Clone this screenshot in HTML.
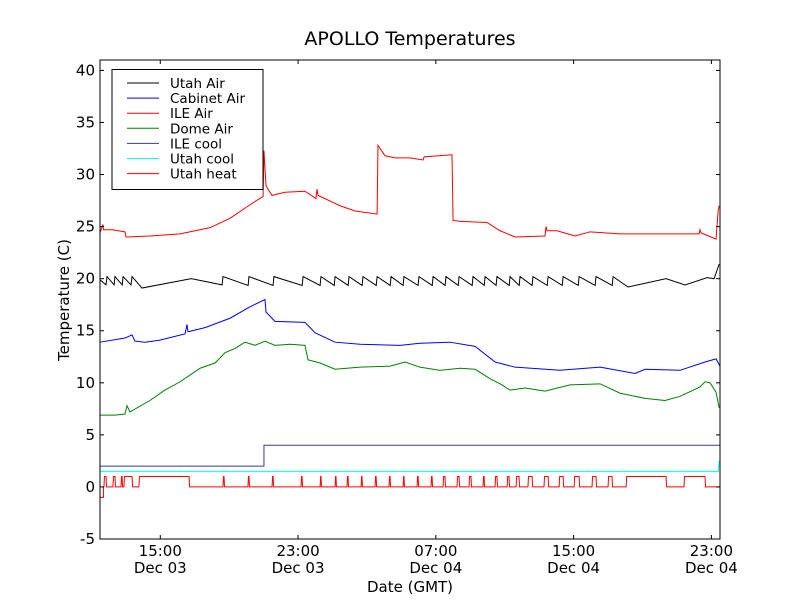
<!DOCTYPE html>
<html><head><meta charset="utf-8"><style>
body{margin:0;background:#fff;}
svg{display:block;font-family:"DejaVu Sans","Liberation Sans",sans-serif;}
</style></head><body>
<svg id="chart" width="800" height="600">
<rect width="800" height="600" fill="#fff"/>
<text x="410" y="45" text-anchor="middle" font-size="19">APOLLO Temperatures</text>
<text x="410" y="592" text-anchor="middle" font-size="15">Date (GMT)</text>
<text transform="translate(69,300) rotate(-90)" text-anchor="middle" font-size="15">Temperature (C)</text>
<g id="plot"></g>
</svg>
<script>
const xTickHours=[3.5,11.5,19.5,27.5,35.5];
const xTickTimes=["15:00","23:00","07:00","15:00","23:00"];
const xTickDates=["Dec 03","Dec 03","Dec 04","Dec 04","Dec 04"];
const yTicks=[-5,0,5,10,15,20,25,30,35,40];
const utahAirT=[0,0.35,0.41,0.82,0.87,1.29,1.34,1.8,1.86,2.44,5.3,7.09,7.14,8.6,8.65,10.05,10.10,11.74,11.79,12.78,12.83,13.6,13.65,14.41,14.46,15.22,15.27,16.04,16.09,16.85,16.9,17.6,17.65,18.47,18.52,19.29,19.34,20.04,20.09,20.8,20.85,21.61,21.66,22.31,22.36,23.0,23.05,23.76,23.81,24.34,24.39,25.09,25.14,25.97,26.02,26.84,26.89,27.77,27.82,28.75,28.8,29.74,29.79,30.66,32.87,33.97,35.25,35.66,35.95];
const utahAirV=[19.9,19.4,20.2,19.4,20.2,19.4,20.2,19.4,20.2,19.1,20.0,19.4,20.2,19.35,20.2,19.35,20.2,19.35,20.2,19.35,20.2,19.35,20.2,19.35,20.2,19.35,20.2,19.35,20.2,19.35,20.2,19.35,20.2,19.35,20.2,19.35,20.2,19.35,20.2,19.35,20.2,19.35,20.2,19.35,20.2,19.35,20.2,19.35,20.2,19.35,20.2,19.35,20.2,19.35,20.2,19.35,20.2,19.35,20.2,19.35,20.2,19.35,20.2,19.2,20.0,19.4,20.1,20.0,21.4];
const cabinetT=[0,1.45,1.86,2.03,2.61,3.48,4.94,5.05,5.11,6.10,7.55,8.71,9.58,9.64,10.16,11.90,12.49,13.65,15.10,17.42,18.58,20.32,21.78,22.94,24.10,26.71,29.04,31.07,31.65,33.68,35.13,35.77,36];
const cabinetV=[13.9,14.3,14.6,14.0,13.9,14.1,14.7,15.6,14.9,15.3,16.2,17.3,18.0,16.8,15.9,15.8,14.8,13.9,13.7,13.6,13.8,13.9,13.5,12.0,11.5,11.2,11.5,10.9,11.3,11.2,12.0,12.3,11.6];
const ileAirT=[0,0.17,0.2,0.70,1.45,1.51,2.90,4.65,6.39,7.55,8.71,9.47,9.52,9.64,9.99,10.74,11.90,12.54,12.60,12.66,13.94,14.81,16.09,16.14,16.55,17.13,18.00,18.76,18.82,20.44,20.50,20.91,22.47,23.23,24.10,25.84,25.90,25.96,26.54,27.58,28.45,30.20,32.52,34.79,34.84,34.90,35.77,35.89,35.95];
const ileAirV=[24.4,25.2,24.7,24.7,24.5,24.0,24.1,24.3,24.9,25.8,27.1,27.9,32.3,28.9,28.0,28.3,28.4,27.7,28.6,28.0,27.0,26.5,26.2,32.8,31.8,31.6,31.6,31.4,31.7,31.9,25.6,25.5,25.4,24.6,24.0,24.1,25.0,24.6,24.6,24.1,24.5,24.3,24.3,24.3,24.7,24.4,23.8,26.5,27.0];
const domeT=[0,0.87,1.45,1.57,1.74,2.90,3.77,4.65,5.81,6.68,7.26,7.84,8.42,9.0,9.58,10.16,11.03,11.90,12.08,12.78,13.65,15.10,16.84,17.71,18.58,19.74,20.91,21.78,22.65,23.23,23.81,24.68,25.84,27.29,29.04,30.20,31.65,32.81,33.68,34.84,35.13,35.42,35.77,35.95];
const domeV=[6.9,6.9,7.0,7.8,7.2,8.3,9.3,10.1,11.4,11.9,12.9,13.3,13.9,13.6,14.0,13.6,13.7,13.6,12.2,11.9,11.3,11.5,11.6,12.0,11.5,11.2,11.4,11.3,10.4,9.9,9.3,9.5,9.2,9.8,9.9,9.0,8.5,8.3,8.7,9.6,10.1,10.0,9.1,7.6];
const ileCoolT=[0,9.52,9.52,36];
const ileCoolV=[2,2,4,4];
const utahCoolT=[0,35.9,35.95];
const utahCoolV=[1.5,1.5,2.5];
const heatOnStart=[0.23,0.75,1.22,1.39,2.26,7.14,8.59,9.99,11.67,12.78,13.65,14.34,15.16,15.97,16.78,17.60,18.41,19.22,19.92,20.73,21.43,22.24,22.94,23.64,24.16,24.85,25.78,26.66,27.53,28.57,29.50,30.55,33.91];
const heatOnEnd=[0.35,0.87,1.28,1.86,5.17,7.20,8.65,10.05,11.73,12.83,13.70,14.40,15.21,16.03,16.84,17.65,18.47,19.28,20.03,20.85,21.54,22.30,23.05,23.75,24.33,25.09,26.02,26.89,27.82,28.80,29.73,32.87,35.13];

const X0=100,X1=720,Y0=60,Y1=539,TMIN=0,TMAX=36,VMIN=-5,VMAX=41;
const sx=t=>X0+(t-TMIN)/(TMAX-TMIN)*(X1-X0);
const sy=v=>Y1-(v-VMIN)/(VMAX-VMIN)*(Y1-Y0);
const NS="http://www.w3.org/2000/svg";
const plot=document.getElementById('plot');
function mk(tag,attrs,parent){const e=document.createElementNS(NS,tag);for(const k in attrs)e.setAttribute(k,attrs[k]);(parent||plot).appendChild(e);return e;}
function line(T,V,color,name,w){
  const d=T.map((t,i)=>(i?'L':'M')+sx(t).toFixed(2)+' '+sy(V[i]).toFixed(2)).join(' ');
  const p=mk('path',{d:d,fill:'none',stroke:color,'stroke-width':w||1});
  
  
}
// heat step series
const heatT=[0,0.2],heatV=[-1,-1];
heatT.push(0.2);heatV.push(0);
heatOnStart.forEach((s,i)=>{heatT.push(s,s+0.03,heatOnEnd[i],heatOnEnd[i]+0.03);heatV.push(0,1,1,0);});
heatT.push(36);heatV.push(0);

line(utahAirT,utahAirV,'#000','utah-air-line');
line(cabinetT,cabinetV,'#0000ff','cabinet-air-line');
line(ileAirT,ileAirV,'#ff0000','ile-air-line');
line(domeT,domeV,'#008000','dome-air-line');
line(ileCoolT,ileCoolV,'#3a3a90','ile-cool-line');
line(utahCoolT,utahCoolV,'#00ffff','utah-cool-line');
line(heatT,heatV,'#ff0000','utah-heat-line');

// frame
const fr=mk('rect',{x:X0,y:Y0,width:X1-X0,height:Y1-Y0,fill:'none',stroke:'#000','stroke-width':1});


// ticks
yTicks.forEach(v=>{
  const y=sy(v);
  mk('line',{x1:X0,x2:X0+4,y1:y,y2:y,stroke:'#000'});
  mk('line',{x1:X1,x2:X1-4,y1:y,y2:y,stroke:'#000'});
  const t=mk('text',{x:X0-5,y:y+5,'text-anchor':'end','font-size':15});
  t.textContent=v;
  
  
});
xTickHours.forEach((h,i)=>{
  const x=sx(h);
  mk('line',{x1:x,x2:x,y1:Y1,y2:Y1-4,stroke:'#000'});
  mk('line',{x1:x,x2:x,y1:Y0,y2:Y0+4,stroke:'#000'});
  const t=mk('text',{x:x,y:556,'text-anchor':'middle','font-size':15});
  t.textContent=xTickTimes[i];
  
  
  const t2=mk('text',{x:x,y:573,'text-anchor':'middle','font-size':15});
  t2.textContent=xTickDates[i];
  
  
});
// legend
const legNames=["Utah Air","Cabinet Air","ILE Air","Dome Air","ILE cool","Utah cool","Utah heat"];
const legColors=["#000","#0000ff","#ff0000","#008000","#3a3a90","#00ffff","#ff0000"];
const lg=mk('g',{});


mk('rect',{x:112,y:69.5,width:151,height:120,fill:'#fff',stroke:'#000','stroke-width':1},lg);
legNames.forEach((n,i)=>{
  const y=83+i*15.1;
  const g=mk('g',{},lg);
  
  
  mk('line',{x1:127,x2:159,y1:y,y2:y,stroke:legColors[i]},g);
  const t=mk('text',{x:170,y:y+5,'font-size':13.5},g);
  t.textContent=n;
});
</script>
</body></html>
